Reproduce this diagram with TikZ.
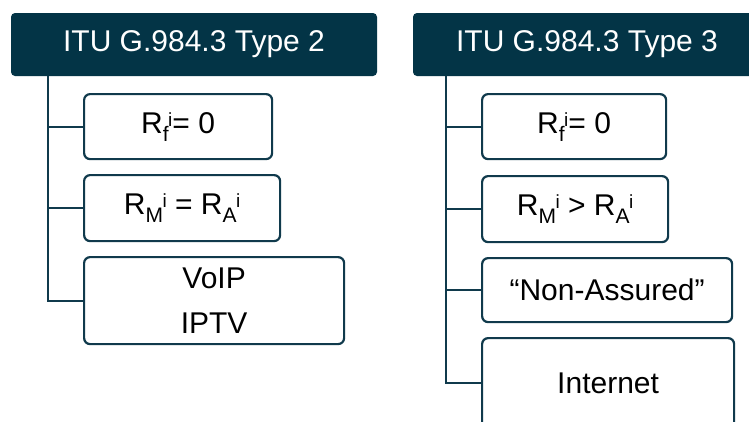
\documentclass[tikz,border=0pt]{standalone}
\usepackage{fontspec}
\setmainfont{Liberation Sans}
\definecolor{navy}{RGB}{3,52,70}
\definecolor{edge}{RGB}{16,58,76}
\newcommand\RR[1]{R\raisebox{-8pt}{\fontsize{21}{21}\selectfont #1}\kern-0.5pt\raisebox{7pt}{\fontsize{19}{19}\selectfont i}}
\tikzset{
  header/.style={rectangle, rounded corners=4pt, fill=navy, text=white, minimum height=63pt, inner sep=0pt, font=\fontsize{30}{36}\selectfont},
  item/.style={rectangle, rounded corners=6pt, draw=edge, line width=2.2pt, fill=white, text=black, anchor=north west, inner sep=0pt, align=center, font=\fontsize{30}{45}\selectfont},
  tree/.style={draw=edge, line width=2.2pt}
}
\begin{document}
\begin{tikzpicture}[x=1pt,y=-1pt]
\path[use as bounding box, clip] (0,0) rectangle (749,421);
\fill[white] (0,0) rectangle (749,421);
% left column
\node[header, minimum width=366pt] (h1) at (194,44.5) {ITU G.984.3 Type 2};
\coordinate (t1) at (48,76);
\node[item, minimum width=188pt, minimum height=65pt] (a1) at (83,93) {\RR{f}= 0};
\node[item, minimum width=196pt, minimum height=66pt] (a2) at (83,174) {\RR{M} = \RR{A}};
\node[item, minimum width=260pt, minimum height=87pt] (a3) at (83,256) {VoIP\\IPTV};
\draw[tree] (t1) |- (a1.west);
\draw[tree] (t1) |- (a2.west);
\draw[tree] (t1) |- (a3.west);
% right column
\node[header, minimum width=348pt] (h2) at (587,44.5) {ITU G.984.3 Type 3};
\coordinate (t2) at (446,76);
\node[item, minimum width=184pt, minimum height=65pt] (b1) at (481,93) {\RR{f}= 0};
\node[item, minimum width=186pt, minimum height=66pt] (b2) at (481,175) {\RR{M} > \RR{A}};
\node[item, minimum width=250pt, minimum height=64pt] (b3) at (481,257) {“Non-Assured”};
\node[item, minimum width=252pt, minimum height=90pt] (b4) at (481,337) {Internet};
\draw[tree] (t2) |- (b1.west);
\draw[tree] (t2) |- (b2.west);
\draw[tree] (t2) |- (b3.west);
\draw[tree] (t2) |- (b4.west);
\end{tikzpicture}
\end{document}
